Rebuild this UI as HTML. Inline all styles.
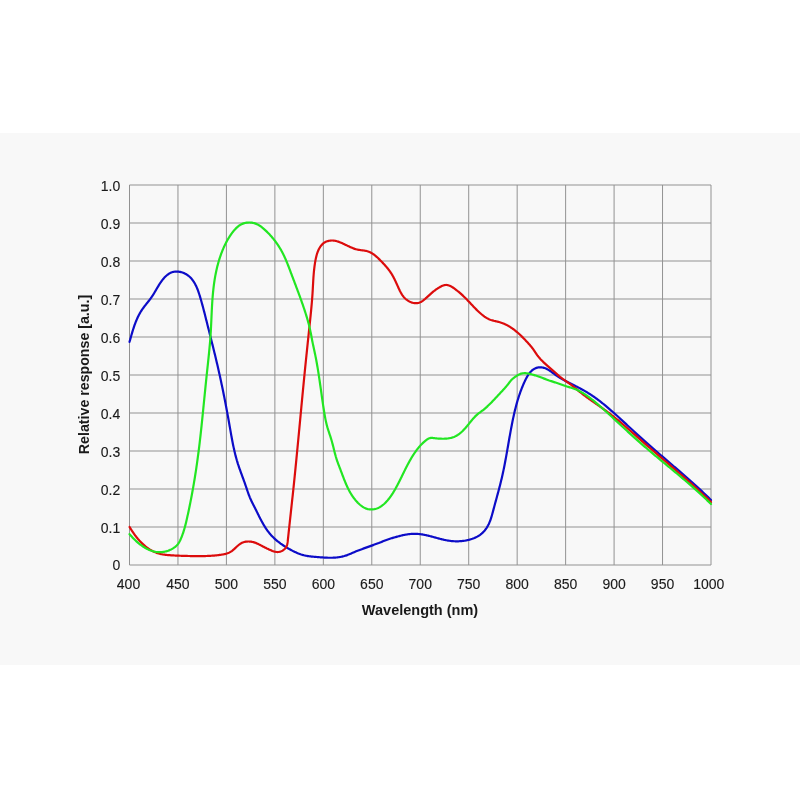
<!DOCTYPE html>
<html><head><meta charset="utf-8"><style>
html,body{margin:0;padding:0;background:#fff;width:800px;height:800px;overflow:hidden}
svg{display:block;will-change:transform}
text{font-family:"Liberation Sans",sans-serif;fill:#1a1a1a}
</style></head><body>
<svg width="800" height="800" viewBox="0 0 800 800">
<rect x="0" y="0" width="800" height="800" fill="#ffffff"/>
<rect x="0" y="133" width="800" height="532" fill="#f8f8f8"/>
<g stroke="#929292" stroke-width="1" fill="none">
<line x1="129.50" y1="185.00" x2="129.50" y2="565.00"/>
<line x1="177.96" y1="185.00" x2="177.96" y2="565.00"/>
<line x1="226.42" y1="185.00" x2="226.42" y2="565.00"/>
<line x1="274.88" y1="185.00" x2="274.88" y2="565.00"/>
<line x1="323.33" y1="185.00" x2="323.33" y2="565.00"/>
<line x1="371.79" y1="185.00" x2="371.79" y2="565.00"/>
<line x1="420.25" y1="185.00" x2="420.25" y2="565.00"/>
<line x1="468.71" y1="185.00" x2="468.71" y2="565.00"/>
<line x1="517.17" y1="185.00" x2="517.17" y2="565.00"/>
<line x1="565.62" y1="185.00" x2="565.62" y2="565.00"/>
<line x1="614.08" y1="185.00" x2="614.08" y2="565.00"/>
<line x1="662.54" y1="185.00" x2="662.54" y2="565.00"/>
<line x1="711.00" y1="185.00" x2="711.00" y2="565.00"/>
<line x1="129.50" y1="565.00" x2="711.00" y2="565.00"/>
<line x1="129.50" y1="527.00" x2="711.00" y2="527.00"/>
<line x1="129.50" y1="489.00" x2="711.00" y2="489.00"/>
<line x1="129.50" y1="451.00" x2="711.00" y2="451.00"/>
<line x1="129.50" y1="413.00" x2="711.00" y2="413.00"/>
<line x1="129.50" y1="375.00" x2="711.00" y2="375.00"/>
<line x1="129.50" y1="337.00" x2="711.00" y2="337.00"/>
<line x1="129.50" y1="299.00" x2="711.00" y2="299.00"/>
<line x1="129.50" y1="261.00" x2="711.00" y2="261.00"/>
<line x1="129.50" y1="223.00" x2="711.00" y2="223.00"/>
<line x1="129.50" y1="185.00" x2="711.00" y2="185.00"/>
</g>
<g font-size="14" text-anchor="end" stroke="#1a1a1a" stroke-width="0.12">
<text x="120.3" y="569.50">0</text>
<text x="120.3" y="533.30">0.1</text>
<text x="120.3" y="495.30">0.2</text>
<text x="120.3" y="457.30">0.3</text>
<text x="120.3" y="419.30">0.4</text>
<text x="120.3" y="381.30">0.5</text>
<text x="120.3" y="343.30">0.6</text>
<text x="120.3" y="305.30">0.7</text>
<text x="120.3" y="267.30">0.8</text>
<text x="120.3" y="229.30">0.9</text>
<text x="120.3" y="191.30">1.0</text>
</g>
<g font-size="14" text-anchor="middle" stroke="#1a1a1a" stroke-width="0.12">
<text x="128.50" y="589.4">400</text>
<text x="177.96" y="589.4">450</text>
<text x="226.42" y="589.4">500</text>
<text x="274.88" y="589.4">550</text>
<text x="323.33" y="589.4">600</text>
<text x="371.79" y="589.4">650</text>
<text x="420.25" y="589.4">700</text>
<text x="468.71" y="589.4">750</text>
<text x="517.17" y="589.4">800</text>
<text x="565.62" y="589.4">850</text>
<text x="614.08" y="589.4">900</text>
<text x="662.54" y="589.4">950</text>
<text x="708.75" y="589.4">1000</text>
</g>
<text x="420" y="614.5" font-size="14.5" font-weight="bold" text-anchor="middle">Wavelength (nm)</text>
<text transform="translate(88.8 374.5) rotate(-90)" x="0" y="0" font-size="14.2" font-weight="bold" text-anchor="middle">Relative response [a.u.]</text>
<g fill="none" stroke-width="2.2" stroke-linejoin="round" stroke-linecap="round">
<path stroke="#0c0cc8" d="M129.49 341.99 L129.69 341.27 L129.89 340.56 L130.09 339.84 L130.29 339.13 L130.50 338.41 L130.70 337.69 L130.90 336.97 L131.11 336.25 L131.31 335.52 L131.52 334.80 L131.73 334.08 L131.94 333.36 L132.15 332.63 L132.37 331.91 L132.59 331.19 L132.81 330.47 L133.04 329.74 L133.26 329.02 L133.50 328.31 L133.73 327.59 L133.97 326.87 L134.21 326.16 L134.46 325.44 L134.71 324.73 L134.97 324.02 L135.23 323.32 L135.50 322.61 L135.78 321.91 L136.05 321.21 L136.34 320.52 L136.63 319.82 L136.93 319.13 L137.23 318.45 L137.54 317.76 L137.86 317.09 L138.19 316.41 L138.52 315.74 L138.86 315.07 L139.21 314.41 L139.57 313.75 L139.93 313.10 L140.31 312.45 L140.69 311.81 L141.08 311.17 L141.48 310.54 L141.89 309.92 L142.31 309.30 L142.74 308.68 L143.18 308.07 L143.63 307.47 L144.08 306.87 L144.53 306.27 L145.00 305.67 L145.46 305.08 L145.93 304.49 L146.40 303.90 L146.87 303.31 L147.35 302.73 L147.82 302.14 L148.28 301.55 L148.75 300.96 L149.21 300.36 L149.67 299.77 L150.12 299.17 L150.57 298.56 L151.00 297.96 L151.43 297.34 L151.86 296.73 L152.27 296.11 L152.68 295.48 L153.08 294.85 L153.48 294.22 L153.87 293.59 L154.26 292.95 L154.64 292.31 L155.03 291.66 L155.41 291.02 L155.79 290.37 L156.17 289.72 L156.54 289.07 L156.92 288.42 L157.31 287.77 L157.69 287.12 L158.08 286.47 L158.47 285.82 L158.86 285.18 L159.26 284.53 L159.66 283.90 L160.08 283.26 L160.49 282.63 L160.92 282.01 L161.36 281.39 L161.80 280.78 L162.25 280.18 L162.72 279.59 L163.20 279.00 L163.69 278.43 L164.19 277.86 L164.70 277.31 L165.23 276.77 L165.78 276.24 L166.34 275.72 L166.91 275.23 L167.50 274.75 L168.10 274.30 L168.72 273.88 L169.35 273.49 L170.00 273.13 L170.67 272.80 L171.35 272.51 L172.04 272.26 L172.75 272.05 L173.46 271.88 L174.19 271.75 L174.93 271.65 L175.67 271.59 L176.42 271.56 L177.17 271.57 L177.92 271.61 L178.67 271.68 L179.42 271.79 L180.17 271.93 L180.91 272.10 L181.65 272.30 L182.38 272.53 L183.11 272.78 L183.82 273.07 L184.52 273.38 L185.22 273.72 L185.89 274.08 L186.56 274.46 L187.20 274.88 L187.83 275.31 L188.44 275.76 L189.03 276.24 L189.59 276.74 L190.14 277.25 L190.66 277.79 L191.17 278.34 L191.66 278.90 L192.13 279.48 L192.58 280.07 L193.02 280.67 L193.44 281.28 L193.85 281.90 L194.24 282.53 L194.62 283.17 L194.98 283.81 L195.34 284.47 L195.68 285.13 L196.01 285.80 L196.33 286.48 L196.64 287.16 L196.93 287.85 L197.22 288.54 L197.50 289.24 L197.78 289.94 L198.04 290.65 L198.30 291.36 L198.55 292.07 L198.79 292.79 L199.03 293.51 L199.26 294.23 L199.49 294.96 L199.72 295.68 L199.94 296.41 L200.15 297.13 L200.37 297.86 L200.58 298.59 L200.80 299.31 L201.01 300.04 L201.21 300.77 L201.42 301.49 L201.62 302.22 L201.83 302.94 L202.03 303.67 L202.23 304.40 L202.42 305.12 L202.62 305.85 L202.82 306.57 L203.01 307.30 L203.20 308.03 L203.39 308.75 L203.58 309.48 L203.77 310.20 L203.96 310.93 L204.15 311.65 L204.34 312.38 L204.52 313.11 L204.71 313.83 L204.89 314.56 L205.08 315.28 L205.26 316.01 L205.44 316.73 L205.63 317.46 L205.81 318.19 L205.99 318.91 L206.17 319.64 L206.35 320.37 L206.54 321.09 L206.72 321.82 L206.90 322.54 L207.08 323.27 L207.27 324.00 L207.45 324.72 L207.63 325.45 L207.82 326.18 L208.00 326.91 L208.18 327.63 L208.37 328.36 L208.55 329.09 L208.73 329.82 L208.92 330.54 L209.10 331.27 L209.28 332.00 L209.47 332.73 L209.65 333.45 L209.83 334.18 L210.02 334.91 L210.20 335.64 L210.39 336.37 L210.57 337.10 L210.75 337.83 L210.94 338.55 L211.12 339.28 L211.30 340.01 L211.48 340.74 L211.67 341.47 L211.85 342.20 L212.03 342.93 L212.21 343.66 L212.40 344.39 L212.58 345.12 L212.76 345.85 L212.94 346.58 L213.12 347.31 L213.30 348.04 L213.48 348.77 L213.66 349.50 L213.84 350.23 L214.02 350.96 L214.20 351.69 L214.38 352.42 L214.56 353.15 L214.74 353.88 L214.92 354.61 L215.09 355.34 L215.27 356.07 L215.45 356.80 L215.62 357.53 L215.80 358.26 L215.97 359.00 L216.15 359.73 L216.32 360.46 L216.49 361.19 L216.67 361.92 L216.84 362.65 L217.01 363.39 L217.18 364.12 L217.35 364.85 L217.52 365.58 L217.69 366.31 L217.86 367.05 L218.03 367.78 L218.19 368.51 L218.36 369.24 L218.53 369.97 L218.69 370.71 L218.86 371.44 L219.02 372.17 L219.18 372.91 L219.35 373.64 L219.51 374.37 L219.67 375.10 L219.83 375.84 L219.99 376.57 L220.16 377.30 L220.31 378.04 L220.47 378.77 L220.63 379.50 L220.79 380.24 L220.95 380.97 L221.11 381.71 L221.26 382.44 L221.42 383.17 L221.57 383.91 L221.73 384.64 L221.88 385.38 L222.04 386.11 L222.19 386.85 L222.34 387.58 L222.49 388.32 L222.64 389.05 L222.80 389.79 L222.95 390.52 L223.10 391.26 L223.25 391.99 L223.40 392.73 L223.54 393.46 L223.69 394.20 L223.84 394.93 L223.99 395.67 L224.13 396.41 L224.28 397.14 L224.42 397.88 L224.57 398.62 L224.71 399.35 L224.86 400.09 L225.00 400.82 L225.15 401.56 L225.29 402.30 L225.43 403.04 L225.57 403.77 L225.71 404.51 L225.85 405.25 L225.99 405.98 L226.13 406.72 L226.27 407.46 L226.41 408.20 L226.55 408.94 L226.69 409.67 L226.83 410.41 L226.97 411.15 L227.10 411.89 L227.24 412.63 L227.38 413.37 L227.51 414.11 L227.65 414.85 L227.78 415.58 L227.92 416.32 L228.05 417.06 L228.18 417.80 L228.32 418.54 L228.45 419.28 L228.58 420.02 L228.72 420.76 L228.85 421.50 L228.98 422.24 L229.11 422.98 L229.24 423.72 L229.37 424.46 L229.50 425.21 L229.63 425.95 L229.76 426.69 L229.89 427.43 L230.02 428.17 L230.15 428.91 L230.28 429.65 L230.41 430.39 L230.54 431.14 L230.67 431.88 L230.80 432.62 L230.93 433.36 L231.06 434.10 L231.19 434.84 L231.32 435.58 L231.46 436.32 L231.59 437.06 L231.73 437.80 L231.86 438.54 L232.00 439.28 L232.14 440.02 L232.28 440.76 L232.42 441.50 L232.57 442.23 L232.71 442.97 L232.86 443.71 L233.01 444.44 L233.16 445.18 L233.31 445.92 L233.46 446.65 L233.62 447.38 L233.78 448.12 L233.94 448.85 L234.10 449.58 L234.27 450.31 L234.44 451.05 L234.61 451.78 L234.78 452.50 L234.96 453.23 L235.14 453.96 L235.32 454.69 L235.51 455.41 L235.69 456.14 L235.89 456.86 L236.08 457.59 L236.28 458.31 L236.48 459.03 L236.69 459.75 L236.89 460.47 L237.11 461.19 L237.32 461.90 L237.54 462.62 L237.77 463.34 L237.99 464.05 L238.23 464.76 L238.46 465.47 L238.70 466.19 L238.94 466.90 L239.18 467.61 L239.43 468.31 L239.68 469.02 L239.93 469.73 L240.18 470.44 L240.43 471.15 L240.69 471.85 L240.94 472.56 L241.20 473.26 L241.46 473.97 L241.72 474.68 L241.98 475.38 L242.24 476.09 L242.50 476.80 L242.76 477.50 L243.02 478.21 L243.28 478.92 L243.53 479.62 L243.79 480.33 L244.05 481.04 L244.30 481.75 L244.55 482.46 L244.81 483.17 L245.05 483.88 L245.30 484.59 L245.55 485.31 L245.79 486.02 L246.03 486.74 L246.27 487.45 L246.51 488.17 L246.75 488.88 L246.99 489.60 L247.23 490.31 L247.47 491.02 L247.71 491.74 L247.96 492.44 L248.21 493.15 L248.46 493.86 L248.72 494.56 L248.99 495.26 L249.26 495.96 L249.53 496.65 L249.81 497.35 L250.10 498.03 L250.40 498.72 L250.70 499.39 L251.01 500.07 L251.33 500.74 L251.65 501.41 L251.98 502.08 L252.31 502.75 L252.64 503.42 L252.98 504.08 L253.31 504.75 L253.65 505.41 L254.00 506.08 L254.34 506.74 L254.68 507.41 L255.02 508.08 L255.35 508.75 L255.69 509.42 L256.03 510.10 L256.36 510.77 L256.70 511.45 L257.03 512.13 L257.37 512.81 L257.70 513.49 L258.04 514.16 L258.38 514.84 L258.72 515.52 L259.05 516.20 L259.40 516.88 L259.74 517.55 L260.08 518.23 L260.43 518.90 L260.78 519.57 L261.13 520.24 L261.49 520.91 L261.85 521.58 L262.21 522.24 L262.58 522.90 L262.95 523.55 L263.32 524.21 L263.70 524.86 L264.09 525.50 L264.48 526.15 L264.87 526.78 L265.27 527.42 L265.68 528.05 L266.09 528.67 L266.51 529.29 L266.94 529.90 L267.37 530.51 L267.81 531.11 L268.26 531.71 L268.71 532.30 L269.18 532.88 L269.65 533.46 L270.13 534.03 L270.61 534.59 L271.11 535.14 L271.62 535.69 L272.13 536.23 L272.65 536.77 L273.18 537.30 L273.71 537.82 L274.25 538.33 L274.80 538.84 L275.36 539.34 L275.92 539.83 L276.49 540.32 L277.07 540.80 L277.65 541.28 L278.24 541.75 L278.83 542.21 L279.43 542.67 L280.04 543.12 L280.64 543.57 L281.26 544.00 L281.88 544.44 L282.50 544.87 L283.13 545.29 L283.76 545.71 L284.40 546.12 L285.03 546.52 L285.68 546.92 L286.32 547.32 L286.97 547.71 L287.63 548.09 L288.28 548.47 L288.94 548.85 L289.60 549.22 L290.26 549.58 L290.92 549.94 L291.59 550.30 L292.26 550.64 L292.93 550.99 L293.60 551.32 L294.28 551.65 L294.95 551.97 L295.64 552.29 L296.32 552.59 L297.01 552.89 L297.70 553.18 L298.39 553.46 L299.08 553.72 L299.78 553.98 L300.49 554.23 L301.19 554.47 L301.90 554.69 L302.61 554.91 L303.33 555.11 L304.05 555.30 L304.78 555.47 L305.51 555.64 L306.24 555.78 L306.98 555.92 L307.72 556.05 L308.46 556.16 L309.20 556.27 L309.95 556.37 L310.70 556.46 L311.45 556.54 L312.20 556.62 L312.95 556.69 L313.71 556.76 L314.46 556.82 L315.22 556.89 L315.97 556.95 L316.72 557.01 L317.48 557.07 L318.23 557.13 L318.98 557.19 L319.73 557.25 L320.48 557.31 L321.22 557.36 L321.97 557.42 L322.72 557.47 L323.47 557.52 L324.21 557.57 L324.96 557.61 L325.71 557.65 L326.46 557.68 L327.20 557.71 L327.95 557.74 L328.70 557.75 L329.45 557.77 L330.20 557.77 L330.95 557.77 L331.70 557.76 L332.45 557.74 L333.21 557.71 L333.96 557.68 L334.71 557.63 L335.46 557.58 L336.21 557.51 L336.96 557.44 L337.70 557.35 L338.45 557.26 L339.19 557.15 L339.93 557.03 L340.67 556.90 L341.40 556.75 L342.14 556.59 L342.87 556.42 L343.59 556.24 L344.31 556.04 L345.03 555.82 L345.74 555.59 L346.45 555.35 L347.16 555.10 L347.86 554.83 L348.56 554.56 L349.26 554.27 L349.95 553.98 L350.65 553.69 L351.34 553.39 L352.03 553.09 L352.73 552.79 L353.42 552.49 L354.11 552.19 L354.80 551.90 L355.50 551.60 L356.19 551.32 L356.89 551.04 L357.59 550.76 L358.29 550.49 L358.99 550.22 L359.69 549.95 L360.39 549.69 L361.09 549.42 L361.79 549.17 L362.50 548.91 L363.20 548.65 L363.91 548.40 L364.61 548.14 L365.32 547.89 L366.03 547.64 L366.73 547.39 L367.44 547.13 L368.15 546.88 L368.85 546.63 L369.56 546.38 L370.27 546.12 L370.98 545.87 L371.68 545.61 L372.39 545.36 L373.09 545.10 L373.80 544.84 L374.51 544.58 L375.21 544.32 L375.92 544.06 L376.62 543.80 L377.32 543.53 L378.03 543.26 L378.73 543.00 L379.43 542.72 L380.13 542.45 L380.83 542.18 L381.53 541.90 L382.22 541.62 L382.92 541.34 L383.62 541.07 L384.32 540.79 L385.02 540.52 L385.72 540.25 L386.42 539.99 L387.12 539.72 L387.82 539.47 L388.53 539.22 L389.24 538.98 L389.95 538.75 L390.66 538.52 L391.37 538.30 L392.09 538.09 L392.81 537.88 L393.53 537.68 L394.25 537.48 L394.97 537.28 L395.69 537.07 L396.41 536.87 L397.13 536.67 L397.85 536.47 L398.58 536.27 L399.30 536.08 L400.03 535.89 L400.76 535.71 L401.50 535.53 L402.23 535.36 L402.97 535.19 L403.71 535.03 L404.45 534.88 L405.19 534.74 L405.94 534.60 L406.68 534.48 L407.43 534.36 L408.17 534.25 L408.92 534.15 L409.67 534.07 L410.42 533.99 L411.16 533.93 L411.91 533.87 L412.66 533.83 L413.41 533.80 L414.15 533.79 L414.90 533.79 L415.64 533.80 L416.38 533.82 L417.13 533.86 L417.87 533.91 L418.61 533.98 L419.34 534.05 L420.08 534.14 L420.82 534.23 L421.56 534.34 L422.29 534.46 L423.03 534.58 L423.76 534.72 L424.49 534.86 L425.23 535.01 L425.96 535.16 L426.69 535.32 L427.42 535.49 L428.15 535.67 L428.88 535.85 L429.62 536.03 L430.35 536.22 L431.08 536.41 L431.81 536.60 L432.54 536.80 L433.27 536.99 L434.00 537.19 L434.73 537.39 L435.46 537.59 L436.19 537.79 L436.92 537.99 L437.65 538.19 L438.38 538.39 L439.11 538.58 L439.84 538.77 L440.58 538.96 L441.31 539.15 L442.04 539.33 L442.78 539.50 L443.51 539.67 L444.25 539.84 L444.98 539.99 L445.72 540.15 L446.46 540.29 L447.20 540.43 L447.94 540.55 L448.68 540.67 L449.42 540.78 L450.16 540.88 L450.91 540.97 L451.65 541.05 L452.40 541.12 L453.14 541.18 L453.89 541.23 L454.64 541.26 L455.39 541.29 L456.13 541.30 L456.88 541.31 L457.63 541.30 L458.38 541.28 L459.13 541.26 L459.87 541.22 L460.62 541.17 L461.36 541.10 L462.11 541.03 L462.85 540.94 L463.60 540.85 L464.34 540.74 L465.08 540.62 L465.82 540.48 L466.55 540.34 L467.29 540.18 L468.02 540.02 L468.75 539.84 L469.48 539.64 L470.21 539.44 L470.93 539.22 L471.65 538.99 L472.37 538.75 L473.08 538.49 L473.79 538.22 L474.49 537.93 L475.18 537.63 L475.86 537.31 L476.54 536.98 L477.21 536.63 L477.86 536.26 L478.51 535.87 L479.15 535.47 L479.77 535.05 L480.38 534.60 L480.97 534.14 L481.56 533.66 L482.12 533.17 L482.68 532.65 L483.21 532.13 L483.74 531.58 L484.24 531.03 L484.73 530.46 L485.20 529.87 L485.66 529.28 L486.10 528.67 L486.52 528.06 L486.92 527.44 L487.30 526.80 L487.67 526.16 L488.03 525.51 L488.37 524.85 L488.70 524.19 L489.01 523.51 L489.31 522.83 L489.60 522.15 L489.88 521.46 L490.15 520.76 L490.41 520.05 L490.66 519.35 L490.90 518.63 L491.13 517.92 L491.36 517.20 L491.58 516.47 L491.79 515.75 L492.00 515.02 L492.21 514.29 L492.41 513.56 L492.61 512.82 L492.81 512.09 L493.00 511.35 L493.19 510.62 L493.39 509.88 L493.58 509.15 L493.78 508.41 L493.97 507.68 L494.17 506.95 L494.36 506.22 L494.56 505.49 L494.76 504.76 L494.96 504.03 L495.15 503.30 L495.35 502.57 L495.55 501.85 L495.75 501.12 L495.95 500.39 L496.14 499.67 L496.34 498.94 L496.54 498.22 L496.74 497.49 L496.94 496.77 L497.13 496.04 L497.33 495.32 L497.53 494.60 L497.72 493.87 L497.92 493.15 L498.11 492.43 L498.31 491.70 L498.50 490.98 L498.70 490.26 L498.89 489.53 L499.08 488.81 L499.27 488.09 L499.46 487.36 L499.65 486.64 L499.83 485.92 L500.02 485.19 L500.20 484.47 L500.39 483.74 L500.57 483.02 L500.75 482.29 L500.93 481.57 L501.11 480.84 L501.28 480.11 L501.46 479.39 L501.63 478.66 L501.80 477.93 L501.97 477.20 L502.14 476.47 L502.30 475.74 L502.47 475.01 L502.63 474.28 L502.79 473.55 L502.95 472.81 L503.11 472.08 L503.26 471.35 L503.42 470.61 L503.57 469.88 L503.72 469.14 L503.87 468.41 L504.02 467.67 L504.17 466.94 L504.32 466.20 L504.46 465.46 L504.61 464.73 L504.75 463.99 L504.89 463.25 L505.03 462.51 L505.17 461.77 L505.31 461.03 L505.45 460.29 L505.59 459.55 L505.73 458.81 L505.86 458.07 L506.00 457.33 L506.13 456.59 L506.27 455.85 L506.40 455.11 L506.53 454.37 L506.66 453.63 L506.80 452.88 L506.93 452.14 L507.06 451.40 L507.19 450.66 L507.32 449.92 L507.45 449.17 L507.58 448.43 L507.71 447.69 L507.84 446.95 L507.97 446.21 L508.10 445.46 L508.22 444.72 L508.35 443.98 L508.48 443.24 L508.61 442.49 L508.74 441.75 L508.87 441.01 L509.00 440.27 L509.13 439.53 L509.26 438.78 L509.39 438.04 L509.52 437.30 L509.65 436.56 L509.78 435.82 L509.92 435.08 L510.05 434.34 L510.18 433.60 L510.32 432.86 L510.45 432.12 L510.59 431.38 L510.72 430.64 L510.86 429.90 L511.00 429.16 L511.13 428.42 L511.27 427.68 L511.41 426.95 L511.55 426.21 L511.70 425.47 L511.84 424.74 L511.98 424.00 L512.13 423.26 L512.28 422.53 L512.42 421.79 L512.57 421.06 L512.72 420.33 L512.87 419.59 L513.03 418.86 L513.18 418.13 L513.34 417.39 L513.50 416.66 L513.66 415.93 L513.82 415.20 L513.98 414.47 L514.15 413.74 L514.31 413.01 L514.48 412.29 L514.65 411.56 L514.83 410.83 L515.00 410.11 L515.18 409.38 L515.36 408.66 L515.55 407.93 L515.73 407.21 L515.92 406.48 L516.11 405.76 L516.30 405.04 L516.50 404.32 L516.70 403.60 L516.90 402.88 L517.10 402.16 L517.31 401.44 L517.52 400.72 L517.74 400.01 L517.95 399.29 L518.17 398.57 L518.40 397.86 L518.63 397.14 L518.86 396.43 L519.09 395.72 L519.33 395.01 L519.57 394.30 L519.82 393.59 L520.06 392.88 L520.32 392.17 L520.57 391.46 L520.83 390.75 L521.10 390.05 L521.37 389.34 L521.64 388.64 L521.92 387.93 L522.20 387.23 L522.49 386.53 L522.78 385.83 L523.07 385.13 L523.37 384.43 L523.67 383.73 L523.98 383.04 L524.30 382.34 L524.62 381.64 L524.94 380.95 L525.27 380.26 L525.60 379.57 L525.94 378.88 L526.29 378.20 L526.65 377.52 L527.02 376.85 L527.40 376.20 L527.79 375.55 L528.20 374.91 L528.62 374.29 L529.06 373.68 L529.51 373.09 L529.98 372.52 L530.47 371.97 L530.99 371.43 L531.52 370.92 L532.07 370.43 L532.65 369.97 L533.25 369.53 L533.88 369.12 L534.53 368.75 L535.20 368.40 L535.89 368.10 L536.59 367.84 L537.30 367.62 L538.02 367.46 L538.75 367.35 L539.48 367.28 L540.21 367.27 L540.95 367.30 L541.68 367.37 L542.41 367.49 L543.14 367.64 L543.86 367.83 L544.57 368.05 L545.28 368.31 L545.97 368.59 L546.65 368.91 L547.32 369.24 L547.98 369.60 L548.62 369.98 L549.26 370.38 L549.89 370.79 L550.52 371.21 L551.14 371.65 L551.76 372.10 L552.37 372.55 L552.98 373.00 L553.59 373.46 L554.20 373.92 L554.81 374.37 L555.42 374.82 L556.04 375.26 L556.66 375.70 L557.28 376.12 L557.91 376.53 L558.55 376.94 L559.18 377.34 L559.82 377.73 L560.46 378.12 L561.11 378.50 L561.76 378.87 L562.41 379.24 L563.06 379.60 L563.72 379.96 L564.38 380.31 L565.04 380.66 L565.70 381.01 L566.36 381.36 L567.03 381.70 L567.69 382.04 L568.36 382.38 L569.03 382.72 L569.70 383.06 L570.37 383.40 L571.04 383.74 L571.71 384.08 L572.38 384.42 L573.05 384.76 L573.72 385.10 L574.39 385.44 L575.06 385.78 L575.72 386.13 L576.39 386.48 L577.06 386.82 L577.73 387.17 L578.40 387.52 L579.06 387.88 L579.72 388.23 L580.39 388.59 L581.05 388.95 L581.71 389.31 L582.37 389.67 L583.03 390.04 L583.68 390.40 L584.34 390.78 L584.99 391.15 L585.64 391.53 L586.28 391.91 L586.93 392.29 L587.57 392.68 L588.21 393.07 L588.85 393.46 L589.49 393.86 L590.12 394.26 L590.75 394.67 L591.37 395.08 L592.00 395.49 L592.62 395.91 L593.23 396.33 L593.85 396.75 L594.46 397.18 L595.07 397.61 L595.68 398.05 L596.29 398.49 L596.89 398.93 L597.49 399.37 L598.09 399.82 L598.69 400.27 L599.29 400.73 L599.88 401.19 L600.47 401.65 L601.06 402.11 L601.65 402.58 L602.24 403.05 L602.82 403.52 L603.41 404.00 L603.99 404.47 L604.57 404.95 L605.15 405.43 L605.73 405.91 L606.30 406.40 L606.88 406.88 L607.45 407.37 L608.02 407.85 L608.60 408.34 L609.17 408.83 L609.74 409.32 L610.30 409.81 L610.87 410.30 L611.44 410.80 L612.00 411.29 L612.57 411.79 L613.13 412.29 L613.69 412.78 L614.26 413.28 L614.82 413.78 L615.38 414.28 L615.94 414.78 L616.49 415.29 L617.05 415.79 L617.61 416.29 L618.16 416.80 L618.72 417.30 L619.28 417.81 L619.83 418.32 L620.38 418.82 L620.94 419.33 L621.49 419.84 L622.04 420.35 L622.60 420.86 L623.15 421.36 L623.70 421.87 L624.25 422.38 L624.80 422.89 L625.35 423.40 L625.90 423.91 L626.46 424.43 L627.01 424.94 L627.56 425.45 L628.11 425.96 L628.66 426.47 L629.21 426.98 L629.76 427.49 L630.31 428.00 L630.86 428.51 L631.41 429.02 L631.96 429.53 L632.51 430.04 L633.06 430.55 L633.61 431.06 L634.17 431.57 L634.72 432.08 L635.27 432.59 L635.82 433.10 L636.38 433.61 L636.93 434.11 L637.48 434.62 L638.04 435.13 L638.59 435.63 L639.15 436.14 L639.71 436.64 L640.26 437.14 L640.82 437.65 L641.38 438.15 L641.94 438.65 L642.50 439.15 L643.06 439.65 L643.62 440.15 L644.18 440.65 L644.74 441.15 L645.30 441.65 L645.86 442.15 L646.42 442.65 L646.99 443.14 L647.55 443.64 L648.11 444.14 L648.68 444.63 L649.24 445.13 L649.81 445.62 L650.37 446.12 L650.94 446.61 L651.50 447.11 L652.07 447.60 L652.64 448.09 L653.20 448.58 L653.77 449.08 L654.34 449.57 L654.90 450.06 L655.47 450.55 L656.04 451.04 L656.61 451.54 L657.18 452.03 L657.75 452.52 L658.32 453.01 L658.88 453.50 L659.45 453.99 L660.02 454.48 L660.59 454.97 L661.16 455.46 L661.73 455.95 L662.30 456.44 L662.87 456.93 L663.44 457.41 L664.01 457.90 L664.58 458.39 L665.15 458.88 L665.73 459.37 L666.30 459.86 L666.87 460.35 L667.44 460.84 L668.01 461.33 L668.58 461.81 L669.15 462.30 L669.72 462.79 L670.29 463.28 L670.86 463.77 L671.43 464.26 L672.00 464.75 L672.57 465.24 L673.14 465.73 L673.71 466.22 L674.28 466.71 L674.85 467.20 L675.42 467.69 L675.99 468.18 L676.56 468.67 L677.13 469.16 L677.69 469.65 L678.26 470.14 L678.83 470.63 L679.40 471.12 L679.97 471.62 L680.53 472.11 L681.10 472.60 L681.67 473.09 L682.23 473.59 L682.80 474.08 L683.37 474.57 L683.93 475.07 L684.50 475.56 L685.06 476.06 L685.63 476.55 L686.19 477.05 L686.76 477.54 L687.32 478.04 L687.88 478.54 L688.44 479.04 L689.01 479.53 L689.57 480.03 L690.13 480.53 L690.69 481.03 L691.25 481.53 L691.81 482.03 L692.37 482.53 L692.93 483.04 L693.49 483.54 L694.04 484.04 L694.60 484.54 L695.16 485.05 L695.71 485.55 L696.27 486.06 L696.82 486.56 L697.38 487.07 L697.93 487.58 L698.49 488.09 L699.04 488.60 L699.59 489.11 L700.14 489.62 L700.69 490.13 L701.24 490.64 L701.79 491.15 L702.34 491.67 L702.88 492.18 L703.43 492.70 L703.98 493.21 L704.52 493.73 L705.07 494.25 L705.61 494.76 L706.15 495.28 L706.69 495.80 L707.24 496.32 L707.78 496.85 L708.32 497.37 L708.85 497.89 L709.39 498.42 L709.93 498.94 L710.46 499.47 L711.00 500.00"/>
<path stroke="#dc0c0c" d="M129.58 527.01 L129.95 527.63 L130.33 528.25 L130.71 528.88 L131.10 529.50 L131.50 530.12 L131.90 530.75 L132.31 531.37 L132.73 531.99 L133.15 532.61 L133.58 533.23 L134.01 533.84 L134.45 534.45 L134.90 535.06 L135.35 535.67 L135.81 536.27 L136.28 536.87 L136.75 537.46 L137.23 538.05 L137.71 538.64 L138.21 539.22 L138.70 539.79 L139.21 540.36 L139.72 540.92 L140.24 541.48 L140.76 542.03 L141.29 542.57 L141.83 543.10 L142.37 543.63 L142.92 544.15 L143.48 544.66 L144.04 545.16 L144.61 545.65 L145.19 546.13 L145.77 546.61 L146.36 547.07 L146.96 547.52 L147.56 547.96 L148.17 548.39 L148.79 548.81 L149.41 549.22 L150.04 549.62 L150.68 550.00 L151.32 550.37 L151.97 550.73 L152.62 551.08 L153.29 551.41 L153.96 551.72 L154.63 552.03 L155.32 552.32 L156.01 552.59 L156.70 552.85 L157.41 553.09 L158.12 553.32 L158.84 553.53 L159.56 553.72 L160.29 553.90 L161.03 554.07 L161.77 554.22 L162.51 554.36 L163.26 554.48 L164.01 554.60 L164.77 554.70 L165.52 554.80 L166.28 554.89 L167.04 554.97 L167.80 555.04 L168.56 555.10 L169.32 555.17 L170.08 555.22 L170.83 555.28 L171.59 555.33 L172.34 555.38 L173.09 555.42 L173.84 555.47 L174.59 555.51 L175.34 555.55 L176.08 555.58 L176.83 555.61 L177.57 555.65 L178.32 555.68 L179.06 555.71 L179.81 555.73 L180.55 555.76 L181.29 555.78 L182.04 555.81 L182.78 555.83 L183.52 555.85 L184.27 555.87 L185.01 555.89 L185.76 555.91 L186.51 555.94 L187.25 555.96 L188.00 555.98 L188.75 555.99 L189.50 556.01 L190.25 556.03 L191.00 556.05 L191.75 556.06 L192.50 556.08 L193.26 556.09 L194.01 556.10 L194.76 556.11 L195.51 556.12 L196.27 556.13 L197.02 556.13 L197.77 556.14 L198.53 556.14 L199.28 556.14 L200.04 556.14 L200.79 556.13 L201.55 556.12 L202.30 556.11 L203.05 556.10 L203.81 556.09 L204.56 556.07 L205.32 556.05 L206.07 556.02 L206.83 556.00 L207.58 555.97 L208.33 555.93 L209.09 555.90 L209.84 555.86 L210.59 555.81 L211.34 555.76 L212.09 555.71 L212.85 555.66 L213.60 555.60 L214.35 555.53 L215.10 555.47 L215.85 555.39 L216.59 555.32 L217.34 555.24 L218.09 555.15 L218.83 555.06 L219.58 554.96 L220.32 554.86 L221.07 554.76 L221.81 554.64 L222.55 554.52 L223.28 554.38 L224.01 554.24 L224.74 554.07 L225.45 553.90 L226.16 553.70 L226.86 553.48 L227.56 553.25 L228.24 552.98 L228.91 552.70 L229.57 552.38 L230.21 552.04 L230.84 551.66 L231.46 551.26 L232.07 550.82 L232.66 550.36 L233.24 549.88 L233.82 549.38 L234.39 548.87 L234.95 548.34 L235.52 547.82 L236.08 547.29 L236.65 546.76 L237.22 546.24 L237.79 545.73 L238.38 545.23 L238.97 544.75 L239.57 544.29 L240.19 543.86 L240.82 543.46 L241.47 543.09 L242.14 542.76 L242.83 542.47 L243.53 542.22 L244.25 542.01 L244.99 541.84 L245.74 541.70 L246.49 541.60 L247.25 541.54 L248.02 541.50 L248.79 541.50 L249.56 541.54 L250.34 541.60 L251.10 541.69 L251.87 541.81 L252.62 541.97 L253.37 542.14 L254.11 542.35 L254.83 542.58 L255.54 542.83 L256.23 543.11 L256.92 543.40 L257.59 543.71 L258.25 544.04 L258.91 544.37 L259.56 544.71 L260.22 545.05 L260.87 545.39 L261.52 545.73 L262.18 546.07 L262.83 546.41 L263.49 546.75 L264.15 547.09 L264.82 547.43 L265.48 547.76 L266.15 548.09 L266.83 548.43 L267.51 548.75 L268.19 549.08 L268.88 549.40 L269.58 549.72 L270.28 550.03 L270.99 550.34 L271.71 550.64 L272.43 550.92 L273.16 551.18 L273.88 551.41 L274.62 551.61 L275.35 551.78 L276.09 551.91 L276.82 551.99 L277.56 552.03 L278.29 552.00 L279.03 551.92 L279.76 551.78 L280.48 551.57 L281.19 551.30 L281.88 550.98 L282.56 550.61 L283.20 550.20 L283.82 549.74 L284.39 549.23 L284.93 548.69 L285.42 548.12 L285.86 547.52 L286.24 546.88 L286.57 546.23 L286.84 545.55 L287.07 544.86 L287.26 544.14 L287.41 543.42 L287.54 542.68 L287.65 541.94 L287.74 541.19 L287.82 540.43 L287.90 539.68 L287.98 538.92 L288.06 538.17 L288.14 537.41 L288.22 536.66 L288.30 535.90 L288.38 535.15 L288.46 534.40 L288.54 533.64 L288.62 532.89 L288.70 532.14 L288.78 531.39 L288.86 530.64 L288.95 529.88 L289.03 529.13 L289.11 528.38 L289.19 527.63 L289.27 526.88 L289.35 526.13 L289.43 525.38 L289.51 524.63 L289.60 523.88 L289.68 523.13 L289.76 522.38 L289.84 521.63 L289.92 520.89 L290.00 520.14 L290.09 519.39 L290.17 518.64 L290.25 517.89 L290.33 517.15 L290.41 516.40 L290.49 515.65 L290.58 514.90 L290.66 514.16 L290.74 513.41 L290.82 512.66 L290.90 511.92 L290.98 511.17 L291.06 510.42 L291.15 509.68 L291.23 508.93 L291.31 508.18 L291.39 507.44 L291.47 506.69 L291.55 505.95 L291.63 505.20 L291.72 504.45 L291.80 503.71 L291.88 502.96 L291.96 502.22 L292.04 501.47 L292.12 500.73 L292.20 499.98 L292.28 499.24 L292.36 498.49 L292.44 497.75 L292.52 497.00 L292.60 496.26 L292.68 495.51 L292.76 494.76 L292.84 494.02 L292.92 493.27 L293.00 492.53 L293.08 491.78 L293.16 491.04 L293.24 490.29 L293.32 489.55 L293.39 488.80 L293.47 488.06 L293.55 487.31 L293.63 486.57 L293.71 485.82 L293.78 485.07 L293.86 484.33 L293.94 483.58 L294.02 482.84 L294.09 482.09 L294.17 481.34 L294.25 480.60 L294.32 479.85 L294.40 479.11 L294.48 478.36 L294.55 477.61 L294.63 476.87 L294.71 476.12 L294.78 475.37 L294.86 474.63 L294.93 473.88 L295.01 473.14 L295.08 472.39 L295.16 471.64 L295.23 470.90 L295.31 470.15 L295.38 469.40 L295.46 468.65 L295.53 467.91 L295.61 467.16 L295.68 466.41 L295.75 465.67 L295.83 464.92 L295.90 464.17 L295.98 463.43 L296.05 462.68 L296.12 461.93 L296.20 461.18 L296.27 460.44 L296.34 459.69 L296.42 458.94 L296.49 458.20 L296.56 457.45 L296.63 456.70 L296.71 455.95 L296.78 455.21 L296.85 454.46 L296.93 453.71 L297.00 452.96 L297.07 452.22 L297.14 451.47 L297.21 450.72 L297.29 449.97 L297.36 449.22 L297.43 448.48 L297.50 447.73 L297.57 446.98 L297.65 446.23 L297.72 445.49 L297.79 444.74 L297.86 443.99 L297.93 443.24 L298.00 442.49 L298.07 441.75 L298.15 441.00 L298.22 440.25 L298.29 439.50 L298.36 438.75 L298.43 438.01 L298.50 437.26 L298.57 436.51 L298.64 435.76 L298.72 435.01 L298.79 434.27 L298.86 433.52 L298.93 432.77 L299.00 432.02 L299.07 431.27 L299.14 430.52 L299.21 429.78 L299.28 429.03 L299.35 428.28 L299.42 427.53 L299.49 426.78 L299.56 426.04 L299.63 425.29 L299.71 424.54 L299.78 423.79 L299.85 423.04 L299.92 422.29 L299.99 421.55 L300.06 420.80 L300.13 420.05 L300.20 419.30 L300.27 418.55 L300.34 417.81 L300.41 417.06 L300.48 416.31 L300.55 415.56 L300.62 414.81 L300.69 414.06 L300.76 413.32 L300.84 412.57 L300.91 411.82 L300.98 411.07 L301.05 410.32 L301.12 409.58 L301.19 408.83 L301.26 408.08 L301.33 407.33 L301.40 406.58 L301.47 405.83 L301.54 405.09 L301.61 404.34 L301.69 403.59 L301.76 402.84 L301.83 402.09 L301.90 401.35 L301.97 400.60 L302.04 399.85 L302.11 399.10 L302.18 398.35 L302.26 397.61 L302.33 396.86 L302.40 396.11 L302.47 395.36 L302.54 394.61 L302.61 393.87 L302.69 393.12 L302.76 392.37 L302.83 391.62 L302.90 390.88 L302.97 390.13 L303.05 389.38 L303.12 388.63 L303.19 387.89 L303.26 387.14 L303.34 386.39 L303.41 385.64 L303.48 384.90 L303.55 384.15 L303.63 383.40 L303.70 382.65 L303.77 381.91 L303.85 381.16 L303.92 380.41 L303.99 379.66 L304.07 378.92 L304.14 378.17 L304.21 377.42 L304.29 376.67 L304.36 375.93 L304.44 375.18 L304.51 374.43 L304.58 373.69 L304.66 372.94 L304.73 372.19 L304.81 371.45 L304.88 370.70 L304.96 369.95 L305.03 369.21 L305.11 368.46 L305.18 367.71 L305.26 366.97 L305.33 366.22 L305.41 365.47 L305.48 364.73 L305.56 363.98 L305.64 363.23 L305.71 362.49 L305.79 361.74 L305.86 360.99 L305.94 360.25 L306.02 359.50 L306.09 358.75 L306.17 358.01 L306.24 357.26 L306.32 356.51 L306.40 355.77 L306.47 355.02 L306.55 354.27 L306.63 353.53 L306.71 352.78 L306.78 352.03 L306.86 351.29 L306.94 350.54 L307.01 349.80 L307.09 349.05 L307.17 348.30 L307.25 347.56 L307.32 346.81 L307.40 346.06 L307.48 345.32 L307.56 344.57 L307.64 343.82 L307.71 343.08 L307.79 342.33 L307.87 341.58 L307.95 340.84 L308.03 340.09 L308.11 339.35 L308.18 338.60 L308.26 337.85 L308.34 337.11 L308.42 336.36 L308.50 335.61 L308.58 334.87 L308.66 334.12 L308.74 333.37 L308.81 332.63 L308.89 331.88 L308.97 331.13 L309.05 330.39 L309.13 329.64 L309.21 328.89 L309.29 328.14 L309.37 327.40 L309.45 326.65 L309.53 325.90 L309.61 325.16 L309.69 324.41 L309.77 323.66 L309.84 322.91 L309.92 322.17 L310.00 321.42 L310.08 320.67 L310.16 319.93 L310.24 319.18 L310.31 318.43 L310.39 317.68 L310.47 316.94 L310.55 316.19 L310.62 315.44 L310.70 314.69 L310.77 313.95 L310.85 313.20 L310.92 312.45 L311.00 311.70 L311.07 310.95 L311.14 310.21 L311.21 309.46 L311.28 308.71 L311.35 307.96 L311.42 307.21 L311.49 306.46 L311.56 305.72 L311.63 304.97 L311.69 304.22 L311.76 303.47 L311.82 302.72 L311.88 301.97 L311.95 301.22 L312.01 300.48 L312.07 299.73 L312.12 298.98 L312.18 298.23 L312.24 297.48 L312.29 296.73 L312.35 295.98 L312.40 295.23 L312.45 294.48 L312.50 293.73 L312.55 292.98 L312.59 292.23 L312.64 291.48 L312.68 290.74 L312.73 289.99 L312.77 289.24 L312.81 288.49 L312.85 287.74 L312.89 286.99 L312.93 286.24 L312.97 285.49 L313.01 284.74 L313.05 283.99 L313.10 283.24 L313.14 282.49 L313.18 281.74 L313.22 280.99 L313.27 280.24 L313.31 279.49 L313.36 278.74 L313.41 277.99 L313.46 277.25 L313.51 276.50 L313.57 275.75 L313.63 275.00 L313.69 274.25 L313.75 273.51 L313.81 272.76 L313.88 272.01 L313.95 271.27 L314.03 270.52 L314.10 269.78 L314.18 269.03 L314.27 268.29 L314.36 267.54 L314.45 266.80 L314.55 266.05 L314.65 265.31 L314.76 264.57 L314.87 263.83 L314.98 263.08 L315.11 262.34 L315.23 261.60 L315.36 260.86 L315.50 260.12 L315.65 259.38 L315.80 258.64 L315.95 257.91 L316.12 257.17 L316.30 256.44 L316.48 255.71 L316.68 254.98 L316.89 254.26 L317.12 253.54 L317.36 252.83 L317.61 252.12 L317.88 251.41 L318.17 250.72 L318.48 250.03 L318.81 249.34 L319.15 248.67 L319.52 248.00 L319.91 247.36 L320.32 246.72 L320.76 246.11 L321.22 245.52 L321.70 244.95 L322.20 244.41 L322.73 243.89 L323.29 243.41 L323.87 242.96 L324.48 242.55 L325.12 242.17 L325.78 241.83 L326.47 241.54 L327.18 241.28 L327.90 241.06 L328.65 240.87 L329.40 240.73 L330.16 240.62 L330.93 240.55 L331.70 240.51 L332.47 240.51 L333.23 240.54 L333.99 240.61 L334.74 240.72 L335.48 240.85 L336.21 241.02 L336.92 241.21 L337.63 241.43 L338.33 241.66 L339.03 241.91 L339.72 242.18 L340.41 242.45 L341.10 242.74 L341.79 243.04 L342.47 243.35 L343.15 243.66 L343.83 243.98 L344.51 244.31 L345.19 244.63 L345.87 244.96 L346.55 245.30 L347.23 245.63 L347.91 245.96 L348.59 246.28 L349.27 246.60 L349.95 246.92 L350.64 247.23 L351.33 247.53 L352.02 247.82 L352.72 248.10 L353.41 248.37 L354.12 248.62 L354.82 248.86 L355.53 249.08 L356.25 249.29 L356.97 249.48 L357.70 249.64 L358.43 249.79 L359.17 249.91 L359.92 250.02 L360.66 250.12 L361.41 250.22 L362.16 250.31 L362.91 250.40 L363.66 250.50 L364.41 250.60 L365.15 250.73 L365.89 250.87 L366.62 251.03 L367.35 251.23 L368.06 251.45 L368.77 251.71 L369.47 252.00 L370.16 252.32 L370.83 252.66 L371.50 253.03 L372.15 253.42 L372.79 253.83 L373.42 254.26 L374.03 254.69 L374.63 255.15 L375.22 255.61 L375.80 256.08 L376.37 256.57 L376.93 257.06 L377.48 257.56 L378.02 258.07 L378.56 258.59 L379.10 259.11 L379.63 259.64 L380.16 260.17 L380.68 260.71 L381.21 261.25 L381.73 261.79 L382.25 262.33 L382.77 262.88 L383.29 263.43 L383.81 263.98 L384.32 264.54 L384.82 265.10 L385.33 265.66 L385.83 266.23 L386.32 266.80 L386.81 267.37 L387.29 267.95 L387.77 268.54 L388.24 269.13 L388.70 269.72 L389.15 270.32 L389.59 270.93 L390.03 271.54 L390.46 272.15 L390.87 272.77 L391.28 273.40 L391.67 274.03 L392.06 274.67 L392.44 275.32 L392.80 275.97 L393.17 276.62 L393.52 277.28 L393.86 277.94 L394.20 278.61 L394.54 279.28 L394.87 279.95 L395.19 280.63 L395.51 281.30 L395.83 281.99 L396.15 282.67 L396.46 283.36 L396.77 284.04 L397.08 284.73 L397.39 285.42 L397.70 286.11 L398.01 286.80 L398.32 287.49 L398.63 288.18 L398.95 288.87 L399.27 289.55 L399.60 290.24 L399.93 290.91 L400.28 291.58 L400.63 292.25 L400.99 292.90 L401.37 293.55 L401.76 294.18 L402.16 294.81 L402.58 295.42 L403.02 296.02 L403.47 296.60 L403.95 297.17 L404.44 297.72 L404.96 298.26 L405.50 298.77 L406.06 299.27 L406.65 299.74 L407.27 300.20 L407.91 300.63 L408.58 301.03 L409.26 301.41 L409.97 301.75 L410.69 302.07 L411.42 302.35 L412.16 302.59 L412.90 302.80 L413.65 302.96 L414.40 303.09 L415.15 303.17 L415.90 303.20 L416.63 303.18 L417.36 303.12 L418.08 303.00 L418.77 302.82 L419.46 302.60 L420.13 302.33 L420.79 302.01 L421.43 301.66 L422.06 301.27 L422.69 300.85 L423.30 300.41 L423.90 299.94 L424.50 299.46 L425.08 298.96 L425.66 298.44 L426.24 297.93 L426.80 297.40 L427.37 296.88 L427.93 296.37 L428.48 295.86 L429.04 295.35 L429.59 294.84 L430.15 294.34 L430.70 293.85 L431.25 293.36 L431.81 292.88 L432.37 292.40 L432.94 291.92 L433.51 291.46 L434.09 291.00 L434.67 290.54 L435.26 290.09 L435.86 289.65 L436.47 289.22 L437.09 288.80 L437.73 288.38 L438.37 287.97 L439.03 287.57 L439.70 287.17 L440.39 286.79 L441.09 286.42 L441.80 286.07 L442.52 285.76 L443.24 285.48 L443.97 285.26 L444.69 285.09 L445.41 284.99 L446.13 284.96 L446.83 285.00 L447.54 285.10 L448.23 285.25 L448.92 285.46 L449.61 285.71 L450.29 286.01 L450.96 286.35 L451.62 286.71 L452.28 287.11 L452.92 287.53 L453.57 287.97 L454.20 288.42 L454.83 288.88 L455.45 289.34 L456.06 289.81 L456.67 290.28 L457.26 290.75 L457.85 291.23 L458.44 291.71 L459.02 292.19 L459.59 292.68 L460.16 293.17 L460.72 293.66 L461.28 294.16 L461.83 294.66 L462.38 295.16 L462.92 295.67 L463.46 296.18 L464.00 296.69 L464.53 297.21 L465.06 297.73 L465.58 298.26 L466.11 298.79 L466.63 299.32 L467.15 299.86 L467.67 300.40 L468.18 300.94 L468.70 301.48 L469.21 302.02 L469.73 302.57 L470.24 303.12 L470.75 303.66 L471.27 304.21 L471.78 304.76 L472.30 305.31 L472.81 305.85 L473.33 306.40 L473.85 306.94 L474.37 307.49 L474.90 308.03 L475.42 308.57 L475.95 309.10 L476.49 309.64 L477.02 310.17 L477.56 310.69 L478.11 311.22 L478.66 311.73 L479.21 312.25 L479.77 312.76 L480.34 313.26 L480.91 313.76 L481.48 314.25 L482.06 314.73 L482.65 315.21 L483.25 315.67 L483.85 316.12 L484.46 316.56 L485.08 316.98 L485.70 317.39 L486.34 317.78 L486.98 318.16 L487.63 318.52 L488.30 318.85 L488.97 319.17 L489.65 319.46 L490.34 319.73 L491.04 319.98 L491.75 320.21 L492.47 320.42 L493.20 320.62 L493.93 320.81 L494.66 320.98 L495.39 321.16 L496.13 321.33 L496.87 321.50 L497.61 321.68 L498.34 321.86 L499.07 322.05 L499.80 322.25 L500.52 322.47 L501.24 322.70 L501.95 322.95 L502.65 323.21 L503.35 323.48 L504.04 323.77 L504.73 324.07 L505.41 324.38 L506.08 324.71 L506.75 325.05 L507.42 325.40 L508.07 325.76 L508.72 326.13 L509.37 326.51 L510.01 326.91 L510.64 327.31 L511.27 327.72 L511.89 328.14 L512.51 328.57 L513.12 329.01 L513.73 329.45 L514.33 329.90 L514.92 330.36 L515.51 330.83 L516.09 331.30 L516.67 331.78 L517.24 332.27 L517.81 332.76 L518.37 333.26 L518.93 333.76 L519.48 334.26 L520.03 334.78 L520.58 335.29 L521.12 335.81 L521.66 336.34 L522.19 336.87 L522.72 337.40 L523.25 337.93 L523.77 338.47 L524.30 339.01 L524.81 339.56 L525.33 340.10 L525.85 340.65 L526.36 341.20 L526.87 341.75 L527.38 342.30 L527.89 342.86 L528.39 343.41 L528.89 343.97 L529.39 344.53 L529.89 345.09 L530.38 345.66 L530.86 346.23 L531.34 346.81 L531.81 347.39 L532.27 347.98 L532.73 348.58 L533.17 349.18 L533.61 349.80 L534.03 350.42 L534.45 351.05 L534.86 351.68 L535.27 352.31 L535.68 352.94 L536.10 353.57 L536.53 354.19 L536.96 354.80 L537.41 355.41 L537.87 356.00 L538.33 356.59 L538.80 357.17 L539.29 357.75 L539.77 358.31 L540.27 358.88 L540.78 359.43 L541.29 359.98 L541.80 360.52 L542.33 361.06 L542.86 361.59 L543.39 362.11 L543.93 362.64 L544.48 363.15 L545.03 363.67 L545.58 364.17 L546.14 364.68 L546.70 365.18 L547.26 365.68 L547.82 366.17 L548.39 366.67 L548.96 367.16 L549.53 367.64 L550.10 368.13 L550.68 368.61 L551.25 369.10 L551.82 369.58 L552.39 370.07 L552.96 370.56 L553.53 371.05 L554.10 371.54 L554.66 372.04 L555.22 372.54 L555.78 373.04 L556.33 373.55 L556.88 374.06 L557.44 374.56 L558.00 375.07 L558.56 375.57 L559.12 376.06 L559.69 376.55 L560.27 377.03 L560.86 377.49 L561.45 377.95 L562.05 378.41 L562.65 378.85 L563.26 379.29 L563.87 379.73 L564.49 380.16 L565.10 380.59 L565.72 381.01 L566.34 381.44 L566.96 381.87 L567.58 382.30 L568.19 382.73 L568.81 383.16 L569.42 383.60 L570.03 384.04 L570.63 384.49 L571.23 384.94 L571.82 385.40 L572.41 385.86 L573.00 386.33 L573.59 386.80 L574.17 387.27 L574.75 387.75 L575.33 388.23 L575.91 388.71 L576.49 389.19 L577.07 389.66 L577.65 390.14 L578.23 390.62 L578.81 391.10 L579.39 391.57 L579.97 392.04 L580.56 392.51 L581.15 392.98 L581.74 393.44 L582.33 393.90 L582.93 394.36 L583.53 394.81 L584.13 395.26 L584.73 395.71 L585.33 396.16 L585.93 396.61 L586.54 397.05 L587.14 397.49 L587.75 397.94 L588.36 398.37 L588.97 398.81 L589.58 399.25 L590.19 399.68 L590.81 400.12 L591.42 400.55 L592.03 400.98 L592.65 401.41 L593.26 401.84 L593.88 402.27 L594.50 402.70 L595.11 403.13 L595.73 403.56 L596.35 403.99 L596.96 404.42 L597.58 404.85 L598.19 405.28 L598.81 405.71 L599.43 406.14 L600.04 406.57 L600.65 407.00 L601.27 407.44 L601.88 407.87 L602.49 408.31 L603.10 408.74 L603.71 409.18 L604.32 409.62 L604.93 410.06 L605.54 410.50 L606.14 410.95 L606.75 411.39 L607.35 411.84 L607.95 412.29 L608.55 412.74 L609.15 413.20 L609.75 413.65 L610.34 414.11 L610.94 414.56 L611.53 415.02 L612.12 415.49 L612.72 415.95 L613.30 416.41 L613.89 416.88 L614.48 417.35 L615.06 417.82 L615.65 418.29 L616.23 418.76 L616.81 419.24 L617.39 419.71 L617.97 420.19 L618.55 420.67 L619.13 421.15 L619.70 421.63 L620.28 422.11 L620.85 422.60 L621.42 423.08 L621.99 423.57 L622.56 424.05 L623.13 424.54 L623.70 425.03 L624.27 425.52 L624.84 426.01 L625.40 426.50 L625.97 427.00 L626.54 427.49 L627.10 427.98 L627.67 428.48 L628.23 428.97 L628.79 429.47 L629.36 429.96 L629.92 430.46 L630.48 430.96 L631.04 431.45 L631.61 431.95 L632.17 432.45 L632.73 432.95 L633.29 433.44 L633.85 433.94 L634.42 434.44 L634.98 434.94 L635.54 435.44 L636.10 435.93 L636.66 436.43 L637.23 436.93 L637.79 437.43 L638.35 437.92 L638.91 438.42 L639.48 438.91 L640.04 439.41 L640.61 439.91 L641.17 440.40 L641.73 440.90 L642.30 441.39 L642.87 441.88 L643.43 442.38 L644.00 442.87 L644.56 443.36 L645.13 443.86 L645.70 444.35 L646.26 444.84 L646.83 445.33 L647.40 445.82 L647.97 446.32 L648.53 446.81 L649.10 447.30 L649.67 447.79 L650.24 448.28 L650.81 448.77 L651.38 449.26 L651.95 449.75 L652.52 450.24 L653.09 450.73 L653.66 451.22 L654.23 451.71 L654.80 452.20 L655.37 452.69 L655.94 453.17 L656.51 453.66 L657.08 454.15 L657.65 454.64 L658.22 455.13 L658.79 455.62 L659.36 456.11 L659.93 456.59 L660.50 457.08 L661.07 457.57 L661.64 458.06 L662.21 458.55 L662.78 459.03 L663.35 459.52 L663.93 460.01 L664.50 460.50 L665.07 460.99 L665.64 461.47 L666.21 461.96 L666.78 462.45 L667.35 462.94 L667.92 463.43 L668.49 463.92 L669.06 464.41 L669.63 464.89 L670.20 465.38 L670.77 465.87 L671.34 466.36 L671.91 466.85 L672.48 467.34 L673.05 467.83 L673.62 468.32 L674.19 468.81 L674.76 469.30 L675.33 469.79 L675.90 470.28 L676.47 470.77 L677.03 471.26 L677.60 471.75 L678.17 472.24 L678.74 472.74 L679.31 473.23 L679.87 473.72 L680.44 474.21 L681.01 474.71 L681.57 475.20 L682.14 475.69 L682.70 476.19 L683.27 476.68 L683.84 477.17 L684.40 477.67 L684.97 478.16 L685.53 478.66 L686.09 479.16 L686.66 479.65 L687.22 480.15 L687.78 480.65 L688.35 481.14 L688.91 481.64 L689.47 482.14 L690.03 482.64 L690.59 483.14 L691.15 483.64 L691.71 484.14 L692.27 484.64 L692.83 485.14 L693.39 485.64 L693.95 486.14 L694.51 486.65 L695.07 487.15 L695.62 487.65 L696.18 488.16 L696.73 488.66 L697.29 489.17 L697.85 489.67 L698.40 490.18 L698.95 490.69 L699.51 491.19 L700.06 491.70 L700.61 492.21 L701.16 492.72 L701.71 493.23 L702.27 493.74 L702.82 494.25 L703.36 494.77 L703.91 495.28 L704.46 495.79 L705.01 496.31 L705.56 496.82 L706.10 497.34 L706.65 497.85 L707.19 498.37 L707.74 498.89 L708.28 499.41 L708.82 499.93 L709.37 500.45 L709.91 500.97 L710.45 501.49 L710.99 502.01"/>
<path stroke="#22e622" d="M129.55 534.19 L130.01 534.72 L130.47 535.25 L130.95 535.79 L131.43 536.32 L131.93 536.85 L132.43 537.39 L132.94 537.92 L133.45 538.45 L133.98 538.98 L134.51 539.51 L135.05 540.03 L135.60 540.55 L136.16 541.07 L136.72 541.58 L137.29 542.08 L137.87 542.58 L138.46 543.08 L139.05 543.57 L139.65 544.04 L140.26 544.52 L140.87 544.98 L141.49 545.43 L142.11 545.88 L142.74 546.31 L143.38 546.73 L144.02 547.14 L144.67 547.54 L145.33 547.93 L145.99 548.31 L146.65 548.67 L147.32 549.01 L148.00 549.34 L148.68 549.66 L149.36 549.96 L150.05 550.25 L150.75 550.51 L151.45 550.76 L152.15 550.99 L152.86 551.21 L153.57 551.40 L154.29 551.58 L155.01 551.73 L155.73 551.86 L156.46 551.97 L157.19 552.06 L157.92 552.13 L158.66 552.18 L159.40 552.20 L160.14 552.20 L160.88 552.17 L161.62 552.12 L162.37 552.05 L163.11 551.95 L163.85 551.84 L164.59 551.70 L165.33 551.54 L166.06 551.35 L166.79 551.15 L167.52 550.92 L168.23 550.67 L168.94 550.40 L169.65 550.11 L170.34 549.79 L171.03 549.46 L171.70 549.11 L172.37 548.73 L173.02 548.34 L173.66 547.92 L174.29 547.49 L174.91 547.03 L175.50 546.55 L176.08 546.06 L176.63 545.54 L177.15 545.00 L177.64 544.43 L178.10 543.85 L178.53 543.25 L178.93 542.62 L179.31 541.99 L179.67 541.33 L180.01 540.67 L180.33 540.00 L180.64 539.32 L180.94 538.63 L181.23 537.94 L181.51 537.25 L181.78 536.55 L182.05 535.85 L182.31 535.15 L182.57 534.45 L182.82 533.74 L183.06 533.03 L183.29 532.32 L183.52 531.61 L183.75 530.90 L183.97 530.18 L184.18 529.46 L184.39 528.75 L184.60 528.02 L184.80 527.30 L185.00 526.58 L185.19 525.85 L185.38 525.13 L185.57 524.40 L185.75 523.67 L185.93 522.94 L186.11 522.21 L186.28 521.48 L186.45 520.74 L186.62 520.01 L186.79 519.28 L186.96 518.54 L187.12 517.81 L187.29 517.07 L187.45 516.34 L187.61 515.61 L187.77 514.87 L187.93 514.14 L188.09 513.40 L188.25 512.66 L188.41 511.93 L188.56 511.19 L188.72 510.46 L188.88 509.72 L189.03 508.99 L189.18 508.25 L189.34 507.51 L189.49 506.78 L189.64 506.04 L189.79 505.30 L189.94 504.57 L190.09 503.83 L190.23 503.09 L190.38 502.36 L190.53 501.62 L190.67 500.88 L190.81 500.15 L190.96 499.41 L191.10 498.67 L191.24 497.93 L191.38 497.20 L191.52 496.46 L191.66 495.72 L191.80 494.98 L191.94 494.24 L192.07 493.51 L192.21 492.77 L192.35 492.03 L192.48 491.29 L192.61 490.55 L192.75 489.81 L192.88 489.07 L193.01 488.33 L193.14 487.60 L193.27 486.86 L193.40 486.12 L193.53 485.38 L193.66 484.64 L193.78 483.90 L193.91 483.16 L194.03 482.42 L194.16 481.68 L194.28 480.94 L194.40 480.20 L194.53 479.46 L194.65 478.72 L194.77 477.98 L194.89 477.24 L195.01 476.49 L195.12 475.75 L195.24 475.01 L195.36 474.27 L195.47 473.53 L195.59 472.79 L195.70 472.05 L195.82 471.31 L195.93 470.56 L196.04 469.82 L196.15 469.08 L196.27 468.34 L196.38 467.60 L196.48 466.86 L196.59 466.11 L196.70 465.37 L196.81 464.63 L196.92 463.89 L197.02 463.14 L197.13 462.40 L197.23 461.66 L197.33 460.91 L197.44 460.17 L197.54 459.43 L197.64 458.68 L197.74 457.94 L197.84 457.20 L197.94 456.45 L198.04 455.71 L198.14 454.97 L198.24 454.22 L198.33 453.48 L198.43 452.74 L198.53 451.99 L198.62 451.25 L198.71 450.50 L198.81 449.76 L198.90 449.01 L198.99 448.27 L199.09 447.52 L199.18 446.78 L199.27 446.03 L199.36 445.29 L199.45 444.55 L199.54 443.80 L199.63 443.05 L199.72 442.31 L199.80 441.56 L199.89 440.82 L199.98 440.07 L200.06 439.33 L200.15 438.58 L200.23 437.84 L200.32 437.09 L200.40 436.35 L200.49 435.60 L200.57 434.85 L200.65 434.11 L200.74 433.36 L200.82 432.62 L200.90 431.87 L200.98 431.12 L201.07 430.38 L201.15 429.63 L201.23 428.88 L201.31 428.14 L201.39 427.39 L201.47 426.64 L201.55 425.90 L201.62 425.15 L201.70 424.41 L201.78 423.66 L201.86 422.91 L201.94 422.16 L202.01 421.42 L202.09 420.67 L202.17 419.92 L202.25 419.18 L202.32 418.43 L202.40 417.68 L202.48 416.94 L202.55 416.19 L202.63 415.44 L202.70 414.69 L202.78 413.95 L202.85 413.20 L202.93 412.45 L203.00 411.71 L203.08 410.96 L203.15 410.21 L203.23 409.46 L203.30 408.72 L203.38 407.97 L203.45 407.22 L203.53 406.47 L203.60 405.73 L203.67 404.98 L203.75 404.23 L203.82 403.49 L203.90 402.74 L203.97 401.99 L204.04 401.24 L204.12 400.50 L204.19 399.75 L204.27 399.00 L204.34 398.25 L204.41 397.51 L204.49 396.76 L204.56 396.01 L204.64 395.26 L204.71 394.52 L204.78 393.77 L204.86 393.02 L204.93 392.27 L205.01 391.53 L205.08 390.78 L205.16 390.03 L205.23 389.28 L205.31 388.54 L205.38 387.79 L205.46 387.04 L205.53 386.30 L205.61 385.55 L205.68 384.80 L205.76 384.05 L205.84 383.31 L205.91 382.56 L205.99 381.81 L206.07 381.06 L206.14 380.32 L206.22 379.57 L206.30 378.82 L206.38 378.08 L206.46 377.33 L206.53 376.58 L206.61 375.84 L206.69 375.09 L206.77 374.34 L206.85 373.60 L206.93 372.85 L207.01 372.10 L207.09 371.36 L207.17 370.61 L207.25 369.86 L207.33 369.12 L207.41 368.37 L207.49 367.62 L207.57 366.88 L207.65 366.13 L207.74 365.38 L207.82 364.64 L207.90 363.89 L207.98 363.14 L208.06 362.40 L208.14 361.65 L208.22 360.90 L208.29 360.16 L208.37 359.41 L208.45 358.66 L208.53 357.92 L208.61 357.17 L208.68 356.42 L208.76 355.68 L208.84 354.93 L208.91 354.18 L208.99 353.44 L209.06 352.69 L209.14 351.94 L209.21 351.20 L209.28 350.45 L209.35 349.70 L209.42 348.96 L209.49 348.21 L209.56 347.46 L209.63 346.71 L209.70 345.97 L209.76 345.22 L209.83 344.47 L209.89 343.72 L209.96 342.98 L210.02 342.23 L210.08 341.48 L210.14 340.73 L210.20 339.99 L210.26 339.24 L210.31 338.49 L210.37 337.74 L210.42 336.99 L210.48 336.25 L210.53 335.50 L210.58 334.75 L210.62 334.00 L210.67 333.25 L210.72 332.50 L210.76 331.75 L210.80 331.00 L210.85 330.26 L210.89 329.51 L210.93 328.76 L210.97 328.01 L211.01 327.26 L211.04 326.51 L211.08 325.76 L211.12 325.01 L211.15 324.26 L211.19 323.51 L211.22 322.76 L211.26 322.01 L211.29 321.26 L211.33 320.51 L211.36 319.76 L211.39 319.01 L211.43 318.26 L211.46 317.51 L211.49 316.76 L211.53 316.01 L211.56 315.26 L211.60 314.51 L211.63 313.76 L211.67 313.01 L211.70 312.26 L211.74 311.51 L211.77 310.77 L211.81 310.02 L211.85 309.27 L211.89 308.52 L211.93 307.77 L211.97 307.02 L212.01 306.27 L212.05 305.52 L212.10 304.77 L212.14 304.02 L212.19 303.27 L212.23 302.52 L212.28 301.77 L212.33 301.03 L212.38 300.28 L212.44 299.53 L212.49 298.78 L212.55 298.03 L212.61 297.28 L212.67 296.53 L212.73 295.79 L212.79 295.04 L212.86 294.29 L212.93 293.54 L213.00 292.80 L213.07 292.05 L213.14 291.30 L213.22 290.55 L213.30 289.81 L213.38 289.06 L213.46 288.31 L213.55 287.57 L213.64 286.82 L213.73 286.08 L213.83 285.33 L213.92 284.58 L214.02 283.84 L214.13 283.09 L214.23 282.35 L214.34 281.60 L214.46 280.86 L214.57 280.12 L214.69 279.37 L214.81 278.63 L214.94 277.89 L215.07 277.15 L215.20 276.40 L215.33 275.66 L215.47 274.92 L215.61 274.18 L215.76 273.45 L215.91 272.71 L216.06 271.97 L216.22 271.24 L216.37 270.50 L216.54 269.77 L216.71 269.03 L216.88 268.30 L217.05 267.57 L217.23 266.84 L217.41 266.11 L217.60 265.38 L217.79 264.66 L217.98 263.93 L218.18 263.21 L218.39 262.49 L218.59 261.76 L218.80 261.04 L219.02 260.33 L219.24 259.61 L219.46 258.89 L219.69 258.18 L219.92 257.47 L220.16 256.76 L220.40 256.05 L220.65 255.34 L220.90 254.63 L221.15 253.93 L221.41 253.23 L221.68 252.53 L221.95 251.83 L222.22 251.13 L222.50 250.44 L222.79 249.75 L223.08 249.06 L223.37 248.37 L223.67 247.68 L223.97 247.00 L224.28 246.32 L224.60 245.64 L224.92 244.96 L225.25 244.29 L225.58 243.62 L225.92 242.95 L226.26 242.29 L226.61 241.62 L226.97 240.96 L227.33 240.31 L227.71 239.66 L228.08 239.01 L228.47 238.36 L228.86 237.72 L229.26 237.08 L229.66 236.44 L230.08 235.81 L230.50 235.19 L230.93 234.56 L231.36 233.94 L231.81 233.33 L232.26 232.72 L232.72 232.11 L233.19 231.51 L233.67 230.92 L234.16 230.33 L234.66 229.76 L235.16 229.19 L235.68 228.64 L236.22 228.10 L236.76 227.58 L237.32 227.08 L237.88 226.59 L238.47 226.13 L239.06 225.69 L239.67 225.27 L240.30 224.88 L240.94 224.51 L241.60 224.17 L242.27 223.87 L242.96 223.59 L243.67 223.34 L244.39 223.13 L245.12 222.95 L245.86 222.80 L246.61 222.68 L247.37 222.59 L248.13 222.53 L248.90 222.50 L249.66 222.51 L250.43 222.54 L251.19 222.60 L251.95 222.70 L252.70 222.82 L253.44 222.98 L254.17 223.16 L254.89 223.38 L255.60 223.62 L256.29 223.89 L256.97 224.19 L257.64 224.52 L258.29 224.86 L258.94 225.24 L259.57 225.63 L260.19 226.04 L260.80 226.46 L261.41 226.91 L262.00 227.36 L262.59 227.84 L263.17 228.32 L263.74 228.81 L264.31 229.31 L264.87 229.82 L265.42 230.33 L265.97 230.85 L266.52 231.37 L267.06 231.90 L267.60 232.43 L268.13 232.97 L268.65 233.51 L269.17 234.05 L269.69 234.60 L270.20 235.16 L270.70 235.71 L271.20 236.28 L271.69 236.84 L272.18 237.42 L272.67 237.99 L273.14 238.57 L273.62 239.16 L274.08 239.74 L274.55 240.34 L275.00 240.93 L275.45 241.53 L275.90 242.14 L276.34 242.74 L276.77 243.35 L277.20 243.97 L277.62 244.59 L278.04 245.21 L278.45 245.84 L278.86 246.47 L279.26 247.10 L279.66 247.74 L280.05 248.38 L280.43 249.02 L280.81 249.67 L281.18 250.32 L281.55 250.97 L281.91 251.63 L282.26 252.28 L282.61 252.95 L282.95 253.61 L283.29 254.28 L283.62 254.95 L283.95 255.63 L284.27 256.30 L284.58 256.98 L284.90 257.66 L285.20 258.35 L285.51 259.03 L285.81 259.72 L286.10 260.41 L286.39 261.10 L286.68 261.79 L286.97 262.49 L287.25 263.18 L287.53 263.88 L287.80 264.58 L288.08 265.28 L288.35 265.98 L288.62 266.68 L288.89 267.38 L289.16 268.08 L289.43 268.79 L289.69 269.49 L289.96 270.20 L290.22 270.90 L290.49 271.60 L290.75 272.31 L291.01 273.01 L291.28 273.72 L291.54 274.42 L291.81 275.12 L292.07 275.83 L292.34 276.53 L292.60 277.23 L292.87 277.93 L293.13 278.64 L293.40 279.34 L293.67 280.04 L293.93 280.74 L294.20 281.45 L294.46 282.15 L294.73 282.85 L295.00 283.55 L295.26 284.25 L295.53 284.95 L295.79 285.66 L296.06 286.36 L296.32 287.06 L296.58 287.76 L296.85 288.46 L297.11 289.17 L297.37 289.87 L297.64 290.57 L297.90 291.27 L298.16 291.98 L298.42 292.68 L298.68 293.38 L298.94 294.09 L299.20 294.79 L299.46 295.49 L299.71 296.20 L299.97 296.90 L300.23 297.61 L300.48 298.31 L300.74 299.02 L300.99 299.72 L301.24 300.43 L301.49 301.14 L301.74 301.84 L301.99 302.55 L302.24 303.26 L302.49 303.97 L302.73 304.68 L302.98 305.39 L303.22 306.10 L303.46 306.81 L303.70 307.52 L303.94 308.23 L304.18 308.94 L304.42 309.66 L304.65 310.37 L304.89 311.08 L305.12 311.80 L305.35 312.52 L305.58 313.23 L305.80 313.95 L306.03 314.67 L306.25 315.38 L306.47 316.10 L306.69 316.82 L306.91 317.54 L307.12 318.27 L307.33 318.99 L307.54 319.71 L307.74 320.43 L307.95 321.16 L308.15 321.88 L308.34 322.61 L308.54 323.33 L308.73 324.06 L308.91 324.79 L309.10 325.51 L309.28 326.24 L309.45 326.97 L309.63 327.70 L309.80 328.43 L309.96 329.16 L310.12 329.90 L310.28 330.63 L310.43 331.36 L310.58 332.10 L310.73 332.83 L310.88 333.56 L311.02 334.30 L311.16 335.04 L311.30 335.77 L311.44 336.51 L311.58 337.24 L311.71 337.98 L311.85 338.72 L311.99 339.45 L312.13 340.19 L312.27 340.93 L312.42 341.66 L312.56 342.40 L312.71 343.13 L312.87 343.87 L313.02 344.61 L313.17 345.34 L313.33 346.08 L313.49 346.81 L313.65 347.55 L313.81 348.28 L313.97 349.01 L314.13 349.75 L314.29 350.48 L314.45 351.22 L314.61 351.95 L314.77 352.69 L314.92 353.42 L315.08 354.16 L315.23 354.90 L315.38 355.63 L315.53 356.37 L315.67 357.11 L315.82 357.84 L315.96 358.58 L316.10 359.32 L316.24 360.05 L316.38 360.79 L316.51 361.53 L316.65 362.27 L316.78 363.01 L316.91 363.75 L317.04 364.48 L317.17 365.22 L317.30 365.96 L317.43 366.70 L317.55 367.44 L317.68 368.18 L317.80 368.92 L317.92 369.66 L318.04 370.40 L318.16 371.14 L318.28 371.88 L318.39 372.62 L318.51 373.36 L318.63 374.11 L318.74 374.85 L318.85 375.59 L318.97 376.33 L319.08 377.07 L319.19 377.81 L319.30 378.55 L319.41 379.30 L319.52 380.04 L319.63 380.78 L319.74 381.52 L319.84 382.27 L319.95 383.01 L320.06 383.75 L320.16 384.49 L320.27 385.24 L320.38 385.98 L320.48 386.72 L320.59 387.47 L320.69 388.21 L320.80 388.95 L320.90 389.69 L321.01 390.44 L321.11 391.18 L321.21 391.92 L321.32 392.67 L321.42 393.41 L321.53 394.15 L321.63 394.90 L321.74 395.64 L321.84 396.39 L321.95 397.13 L322.06 397.87 L322.16 398.62 L322.27 399.36 L322.38 400.10 L322.48 400.85 L322.59 401.59 L322.70 402.33 L322.81 403.08 L322.92 403.82 L323.03 404.56 L323.14 405.31 L323.25 406.05 L323.37 406.79 L323.48 407.54 L323.59 408.28 L323.71 409.02 L323.82 409.77 L323.94 410.51 L324.06 411.25 L324.18 412.00 L324.30 412.74 L324.42 413.48 L324.54 414.23 L324.67 414.97 L324.80 415.71 L324.93 416.45 L325.07 417.19 L325.20 417.93 L325.34 418.67 L325.49 419.40 L325.64 420.14 L325.79 420.87 L325.95 421.61 L326.12 422.34 L326.29 423.07 L326.46 423.80 L326.64 424.52 L326.83 425.25 L327.03 425.97 L327.23 426.69 L327.43 427.41 L327.65 428.13 L327.86 428.84 L328.09 429.56 L328.31 430.27 L328.54 430.98 L328.77 431.70 L329.01 432.41 L329.24 433.12 L329.48 433.83 L329.72 434.54 L329.95 435.25 L330.19 435.97 L330.42 436.68 L330.65 437.39 L330.88 438.11 L331.10 438.83 L331.32 439.55 L331.53 440.27 L331.74 440.99 L331.95 441.71 L332.15 442.44 L332.34 443.17 L332.54 443.89 L332.73 444.62 L332.92 445.35 L333.10 446.09 L333.29 446.82 L333.47 447.55 L333.65 448.28 L333.83 449.01 L334.01 449.74 L334.20 450.48 L334.38 451.21 L334.57 451.94 L334.75 452.67 L334.94 453.39 L335.13 454.12 L335.33 454.85 L335.53 455.57 L335.73 456.29 L335.93 457.01 L336.15 457.73 L336.36 458.45 L336.58 459.16 L336.81 459.87 L337.05 460.58 L337.29 461.28 L337.54 461.99 L337.79 462.69 L338.04 463.39 L338.30 464.08 L338.57 464.78 L338.83 465.48 L339.10 466.18 L339.37 466.87 L339.64 467.57 L339.91 468.27 L340.17 468.97 L340.44 469.67 L340.71 470.37 L340.97 471.08 L341.24 471.78 L341.50 472.49 L341.77 473.19 L342.03 473.90 L342.30 474.61 L342.56 475.32 L342.83 476.02 L343.10 476.73 L343.37 477.44 L343.64 478.14 L343.91 478.85 L344.19 479.55 L344.47 480.25 L344.75 480.96 L345.03 481.66 L345.32 482.36 L345.61 483.05 L345.91 483.75 L346.21 484.44 L346.51 485.13 L346.82 485.81 L347.13 486.50 L347.45 487.18 L347.77 487.86 L348.10 488.53 L348.44 489.20 L348.78 489.87 L349.12 490.53 L349.48 491.19 L349.84 491.85 L350.20 492.50 L350.58 493.14 L350.96 493.78 L351.35 494.42 L351.75 495.05 L352.16 495.67 L352.57 496.29 L353.00 496.91 L353.43 497.51 L353.88 498.11 L354.33 498.71 L354.79 499.30 L355.26 499.88 L355.75 500.45 L356.24 501.02 L356.74 501.58 L357.26 502.13 L357.79 502.68 L358.33 503.21 L358.88 503.74 L359.44 504.26 L360.01 504.76 L360.60 505.25 L361.20 505.72 L361.81 506.18 L362.43 506.61 L363.06 507.02 L363.70 507.40 L364.36 507.76 L365.03 508.09 L365.71 508.38 L366.40 508.65 L367.10 508.87 L367.82 509.07 L368.55 509.22 L369.28 509.33 L370.03 509.41 L370.78 509.45 L371.53 509.45 L372.28 509.41 L373.04 509.35 L373.79 509.24 L374.54 509.11 L375.28 508.94 L376.01 508.74 L376.73 508.50 L377.44 508.24 L378.13 507.95 L378.81 507.63 L379.47 507.29 L380.12 506.92 L380.76 506.52 L381.39 506.11 L382.00 505.67 L382.61 505.21 L383.19 504.74 L383.77 504.25 L384.34 503.74 L384.89 503.22 L385.43 502.69 L385.97 502.15 L386.49 501.59 L387.00 501.03 L387.50 500.47 L387.99 499.89 L388.46 499.31 L388.94 498.72 L389.40 498.13 L389.85 497.54 L390.29 496.93 L390.73 496.32 L391.16 495.71 L391.58 495.09 L391.99 494.47 L392.40 493.85 L392.80 493.22 L393.20 492.58 L393.59 491.94 L393.97 491.30 L394.35 490.66 L394.72 490.01 L395.10 489.36 L395.46 488.71 L395.83 488.05 L396.19 487.40 L396.54 486.74 L396.90 486.08 L397.25 485.42 L397.60 484.75 L397.94 484.09 L398.29 483.42 L398.63 482.75 L398.97 482.08 L399.31 481.41 L399.65 480.74 L399.98 480.07 L400.32 479.40 L400.65 478.73 L400.98 478.05 L401.32 477.38 L401.65 476.70 L401.98 476.03 L402.31 475.35 L402.64 474.68 L402.97 474.00 L403.30 473.32 L403.63 472.65 L403.97 471.97 L404.30 471.30 L404.63 470.63 L404.97 469.95 L405.30 469.28 L405.64 468.61 L405.98 467.94 L406.32 467.27 L406.66 466.60 L407.01 465.93 L407.35 465.27 L407.70 464.60 L408.05 463.94 L408.41 463.28 L408.76 462.62 L409.12 461.96 L409.49 461.30 L409.85 460.65 L410.22 460.00 L410.60 459.35 L410.97 458.70 L411.35 458.06 L411.74 457.41 L412.13 456.78 L412.52 456.14 L412.92 455.51 L413.32 454.87 L413.73 454.25 L414.15 453.62 L414.56 453.00 L414.99 452.38 L415.42 451.77 L415.85 451.16 L416.29 450.55 L416.74 449.95 L417.20 449.35 L417.66 448.76 L418.13 448.17 L418.60 447.59 L419.09 447.01 L419.58 446.44 L420.08 445.87 L420.59 445.31 L421.10 444.75 L421.63 444.21 L422.16 443.67 L422.71 443.13 L423.26 442.60 L423.83 442.08 L424.41 441.57 L424.99 441.07 L425.59 440.57 L426.20 440.09 L426.82 439.64 L427.45 439.22 L428.09 438.84 L428.74 438.52 L429.41 438.26 L430.09 438.07 L430.78 437.96 L431.48 437.91 L432.19 437.92 L432.91 437.97 L433.64 438.04 L434.38 438.14 L435.12 438.23 L435.87 438.32 L436.63 438.40 L437.39 438.48 L438.16 438.55 L438.92 438.60 L439.69 438.65 L440.47 438.69 L441.24 438.72 L442.02 438.74 L442.79 438.74 L443.56 438.74 L444.33 438.72 L445.10 438.68 L445.87 438.63 L446.63 438.57 L447.39 438.49 L448.14 438.39 L448.89 438.27 L449.63 438.14 L450.37 437.99 L451.09 437.82 L451.81 437.63 L452.52 437.42 L453.22 437.19 L453.91 436.94 L454.58 436.66 L455.25 436.36 L455.90 436.04 L456.54 435.69 L457.17 435.33 L457.79 434.94 L458.40 434.53 L458.99 434.11 L459.58 433.67 L460.16 433.21 L460.73 432.73 L461.29 432.24 L461.84 431.74 L462.39 431.22 L462.92 430.69 L463.46 430.15 L463.98 429.61 L464.50 429.05 L465.01 428.48 L465.52 427.91 L466.02 427.33 L466.52 426.74 L467.02 426.15 L467.51 425.56 L467.99 424.96 L468.48 424.37 L468.96 423.77 L469.44 423.17 L469.93 422.57 L470.40 421.98 L470.88 421.39 L471.36 420.80 L471.84 420.22 L472.32 419.65 L472.80 419.08 L473.28 418.52 L473.77 417.97 L474.26 417.42 L474.75 416.89 L475.26 416.37 L475.77 415.85 L476.30 415.35 L476.85 414.85 L477.40 414.37 L477.98 413.90 L478.57 413.43 L479.17 412.98 L479.79 412.53 L480.40 412.08 L481.02 411.63 L481.64 411.18 L482.25 410.73 L482.86 410.26 L483.45 409.79 L484.04 409.32 L484.62 408.84 L485.19 408.35 L485.75 407.85 L486.31 407.35 L486.87 406.85 L487.41 406.34 L487.96 405.82 L488.50 405.31 L489.03 404.79 L489.57 404.26 L490.10 403.74 L490.63 403.21 L491.16 402.68 L491.68 402.14 L492.21 401.61 L492.73 401.07 L493.25 400.53 L493.76 399.98 L494.28 399.44 L494.80 398.90 L495.31 398.35 L495.82 397.80 L496.34 397.25 L496.85 396.70 L497.36 396.15 L497.87 395.60 L498.38 395.05 L498.89 394.50 L499.41 393.95 L499.92 393.40 L500.43 392.84 L500.94 392.29 L501.46 391.74 L501.97 391.19 L502.48 390.64 L503.00 390.09 L503.51 389.54 L504.02 388.99 L504.52 388.43 L505.02 387.87 L505.52 387.30 L506.01 386.73 L506.49 386.16 L506.97 385.58 L507.44 384.99 L507.90 384.40 L508.35 383.80 L508.81 383.21 L509.26 382.61 L509.71 382.02 L510.17 381.43 L510.65 380.86 L511.13 380.30 L511.63 379.76 L512.15 379.24 L512.69 378.74 L513.25 378.27 L513.84 377.81 L514.44 377.37 L515.06 376.94 L515.70 376.52 L516.36 376.11 L517.02 375.69 L517.70 375.27 L518.39 374.86 L519.08 374.49 L519.78 374.15 L520.49 373.86 L521.20 373.63 L521.92 373.45 L522.64 373.32 L523.37 373.23 L524.09 373.19 L524.82 373.19 L525.55 373.22 L526.29 373.28 L527.02 373.37 L527.75 373.48 L528.48 373.62 L529.22 373.77 L529.95 373.93 L530.67 374.11 L531.40 374.29 L532.12 374.48 L532.84 374.69 L533.56 374.89 L534.28 375.11 L535.00 375.33 L535.71 375.56 L536.43 375.80 L537.14 376.04 L537.85 376.29 L538.56 376.53 L539.27 376.79 L539.98 377.04 L540.69 377.30 L541.39 377.57 L542.10 377.83 L542.81 378.09 L543.51 378.36 L544.22 378.62 L544.92 378.89 L545.63 379.15 L546.33 379.41 L547.04 379.67 L547.75 379.93 L548.45 380.18 L549.16 380.44 L549.87 380.68 L550.58 380.93 L551.29 381.16 L552.00 381.40 L552.71 381.63 L553.42 381.87 L554.13 382.10 L554.85 382.33 L555.56 382.56 L556.27 382.79 L556.98 383.03 L557.69 383.26 L558.40 383.50 L559.10 383.75 L559.81 384.00 L560.52 384.26 L561.22 384.52 L561.93 384.78 L562.63 385.05 L563.34 385.31 L564.04 385.56 L564.75 385.81 L565.47 386.05 L566.18 386.28 L566.90 386.50 L567.62 386.71 L568.34 386.92 L569.06 387.13 L569.78 387.34 L570.50 387.55 L571.22 387.77 L571.93 387.98 L572.64 388.21 L573.35 388.45 L574.06 388.69 L574.76 388.95 L575.45 389.22 L576.14 389.51 L576.83 389.81 L577.51 390.12 L578.19 390.45 L578.86 390.79 L579.52 391.14 L580.18 391.50 L580.84 391.87 L581.49 392.25 L582.14 392.64 L582.79 393.03 L583.42 393.43 L584.06 393.84 L584.69 394.25 L585.32 394.67 L585.95 395.09 L586.57 395.52 L587.18 395.95 L587.80 396.38 L588.41 396.82 L589.02 397.26 L589.62 397.71 L590.22 398.16 L590.82 398.61 L591.42 399.07 L592.01 399.53 L592.60 399.99 L593.19 400.45 L593.78 400.92 L594.36 401.39 L594.94 401.87 L595.52 402.34 L596.10 402.82 L596.67 403.30 L597.25 403.79 L597.82 404.27 L598.39 404.76 L598.95 405.25 L599.52 405.74 L600.09 406.23 L600.65 406.73 L601.21 407.22 L601.77 407.72 L602.34 408.22 L602.89 408.72 L603.45 409.22 L604.01 409.72 L604.57 410.22 L605.13 410.72 L605.68 411.23 L606.24 411.73 L606.79 412.23 L607.35 412.74 L607.90 413.24 L608.46 413.75 L609.01 414.26 L609.57 414.76 L610.12 415.27 L610.67 415.78 L611.22 416.28 L611.78 416.79 L612.33 417.30 L612.88 417.81 L613.43 418.32 L613.98 418.83 L614.53 419.34 L615.09 419.85 L615.64 420.36 L616.19 420.87 L616.74 421.38 L617.29 421.89 L617.84 422.40 L618.39 422.91 L618.94 423.42 L619.49 423.93 L620.04 424.44 L620.59 424.95 L621.14 425.46 L621.69 425.97 L622.24 426.48 L622.79 426.99 L623.35 427.50 L623.90 428.01 L624.45 428.52 L625.00 429.03 L625.55 429.54 L626.10 430.05 L626.66 430.56 L627.21 431.06 L627.76 431.57 L628.31 432.08 L628.87 432.59 L629.42 433.09 L629.98 433.60 L630.53 434.11 L631.08 434.61 L631.64 435.12 L632.20 435.62 L632.75 436.13 L633.31 436.63 L633.87 437.13 L634.42 437.64 L634.98 438.14 L635.54 438.64 L636.10 439.14 L636.66 439.64 L637.22 440.14 L637.78 440.64 L638.34 441.14 L638.91 441.63 L639.47 442.13 L640.03 442.63 L640.60 443.12 L641.16 443.61 L641.73 444.11 L642.29 444.60 L642.86 445.09 L643.43 445.58 L644.00 446.07 L644.57 446.56 L645.13 447.05 L645.70 447.54 L646.27 448.03 L646.85 448.52 L647.42 449.01 L647.99 449.49 L648.56 449.98 L649.13 450.46 L649.71 450.95 L650.28 451.43 L650.85 451.92 L651.43 452.40 L652.00 452.88 L652.58 453.37 L653.15 453.85 L653.73 454.33 L654.30 454.81 L654.88 455.30 L655.46 455.78 L656.03 456.26 L656.61 456.74 L657.19 457.22 L657.76 457.70 L658.34 458.18 L658.92 458.66 L659.50 459.14 L660.07 459.62 L660.65 460.10 L661.23 460.57 L661.81 461.05 L662.39 461.53 L662.97 462.01 L663.55 462.49 L664.12 462.97 L664.70 463.44 L665.28 463.92 L665.86 464.40 L666.44 464.88 L667.02 465.36 L667.60 465.84 L668.18 466.31 L668.76 466.79 L669.33 467.27 L669.91 467.75 L670.49 468.23 L671.07 468.71 L671.65 469.18 L672.23 469.66 L672.80 470.14 L673.38 470.62 L673.96 471.10 L674.54 471.58 L675.12 472.06 L675.69 472.54 L676.27 473.02 L676.85 473.50 L677.42 473.98 L678.00 474.47 L678.57 474.95 L679.15 475.43 L679.73 475.91 L680.30 476.39 L680.87 476.88 L681.45 477.36 L682.02 477.85 L682.60 478.33 L683.17 478.81 L683.74 479.30 L684.31 479.79 L684.89 480.27 L685.46 480.76 L686.03 481.25 L686.60 481.74 L687.17 482.22 L687.74 482.71 L688.31 483.20 L688.87 483.69 L689.44 484.18 L690.01 484.68 L690.58 485.17 L691.14 485.66 L691.71 486.16 L692.27 486.65 L692.83 487.15 L693.40 487.64 L693.96 488.14 L694.52 488.64 L695.08 489.13 L695.64 489.63 L696.20 490.13 L696.76 490.64 L697.32 491.14 L697.88 491.64 L698.44 492.14 L698.99 492.65 L699.55 493.15 L700.10 493.66 L700.65 494.17 L701.21 494.68 L701.76 495.18 L702.31 495.70 L702.86 496.21 L703.41 496.72 L703.96 497.23 L704.50 497.75 L705.05 498.26 L705.59 498.78 L706.14 499.30 L706.68 499.82 L707.22 500.34 L707.76 500.86 L708.30 501.38 L708.84 501.91 L709.38 502.43 L709.92 502.96 L710.45 503.48 L710.99 504.01"/>
</g>
</svg>
</body></html>
